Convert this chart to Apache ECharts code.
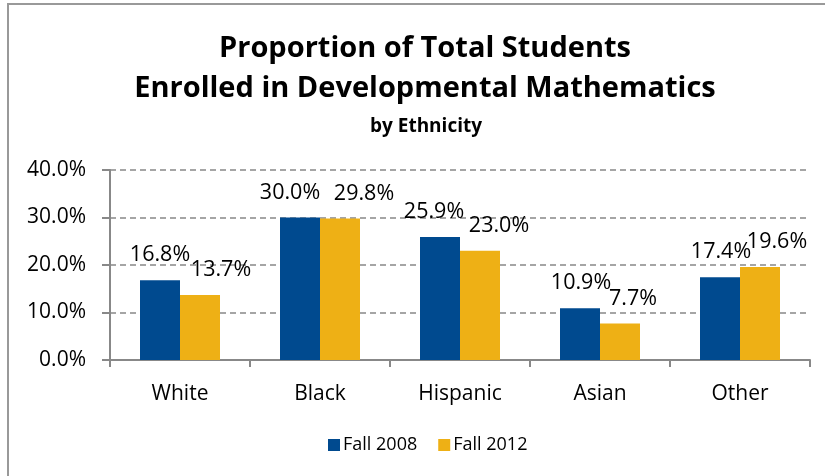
<!DOCTYPE html>
<html>
<head>
<meta charset="utf-8">
<script src="https://cdn.jsdelivr.net/npm/echarts@6/dist/echarts.min.js"></script>
<style>html,body{margin:0;padding:0;background:#fff;}#c{width:825px;height:476px;}</style>
</head>
<body>
<div id="c"></div>
<script>
const categories = ['White', 'Black', 'Hispanic', 'Asian', 'Other'];
const seriesNames = ['Fall 2008', 'Fall 2012'];
const fall2008 = [16.8, 30.0, 25.9, 10.9, 17.4];
const fall2012 = [13.7, 29.8, 23.0, 7.7, 19.6];
const yTicks = { min: 0, max: 40, interval: 10 };

// label nudges (style only)
const offs2008 = [0, -10, -6, 1, 1];
const offs2012 = [21, 24, 19, 13, 17];

const FONT = 'Open Sans';
const chart = echarts.init(document.getElementById('c'));

function mk(vals, offs) {
  return vals.map((v, i) => ({ value: v, label: { offset: [offs[i], 0] } }));
}
const labelStyle = {
  show: true, position: 'top', distance: 14,
  fontFamily: FONT, fontSize: 21.5, color: '#000',
  formatter: p => p.value.toFixed(1) + '%'
};

chart.setOption({
  animation: false,
  backgroundColor: '#fff',
  title: [
    { text: 'Proportion of Total Students\nEnrolled in Developmental Mathematics', left: 420, top: 24,
      textAlign: 'center',
      textStyle: { fontFamily: FONT, fontWeight: 'bold', fontSize: 29, lineHeight: 40, color: '#000' } },
    { text: 'by Ethnicity', left: 421, top: 110,
      textAlign: 'center',
      textStyle: { fontFamily: FONT, fontWeight: 'bold', fontSize: 19, lineHeight: 24, color: '#000' } }
  ],
  legend: {
    left: 323, top: 431, itemWidth: 12, itemHeight: 12, itemGap: 21,
    icon: 'rect',
    textStyle: { fontFamily: FONT, fontSize: 18, color: '#000', padding: [0, 0, 0, -2] },
    data: seriesNames
  },
  grid: { left: 110, right: 15, top: 170, bottom: 116 },
  xAxis: {
    type: 'category', data: categories,
    axisLine: { lineStyle: { color: '#888', width: 2 } },
    axisTick: { show: true, length: 7, lineStyle: { color: '#888', width: 2 } },
    axisLabel: { fontFamily: FONT, fontSize: 21, color: '#000', margin: 24 }
  },
  yAxis: {
    type: 'value', min: yTicks.min, max: yTicks.max, interval: yTicks.interval,
    axisLine: { show: true, lineStyle: { color: '#888', width: 2 } },
    axisTick: { show: true, length: 8, lineStyle: { color: '#888', width: 2 } },
    axisLabel: { fontFamily: FONT, fontSize: 21, color: '#000', margin: 24, formatter: v => v.toFixed(1) + '%' },
    splitLine: { show: true, lineStyle: { color: '#888', width: 1.5, type: [6, 4] } }
  },
  series: [
    { name: seriesNames[0], type: 'bar', data: mk(fall2008, offs2008), itemStyle: { color: '#004A8F' },
      barGap: '0%', barCategoryGap: '42.86%', label: labelStyle },
    { name: seriesNames[1], type: 'bar', data: mk(fall2012, offs2012), itemStyle: { color: '#EEB015' },
      barGap: '0%', barCategoryGap: '42.86%', label: labelStyle }
  ],
  graphic: [
    { type: 'line', shape: { x1: 8, y1: 4, x2: 8, y2: 476 }, style: { stroke: '#999', lineWidth: 2 } },
    { type: 'line', shape: { x1: 7, y1: 4, x2: 825, y2: 4 }, style: { stroke: '#999', lineWidth: 2 } }
  ]
});
</script>
</body>
</html>
